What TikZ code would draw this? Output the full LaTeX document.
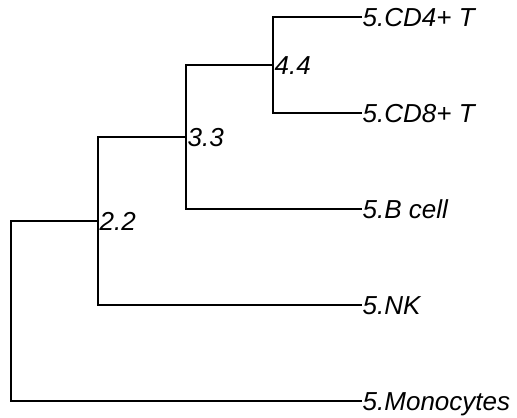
\documentclass[tikz,border=0pt]{standalone}
\usepackage{fontspec}
\setmainfont{Liberation Sans}
\begin{document}
\begin{tikzpicture}[x=1bp,y=-1bp,
  branch/.style={line width=1.4bp, line join=miter, line cap=rect},
  lbl/.style={anchor=base west, inner sep=0pt, font=\fontsize{26bp}{31bp}\selectfont\itshape, yshift=-9.2bp},
]
\useasboundingbox (0,0) rectangle (517,417);
% internal nodes
\coordinate (n44) at (273,65);
\coordinate (n33) at (186,137);
\coordinate (n22) at (98,221);
\coordinate (root) at (11,311);
% leaf tips
\coordinate (tcd4) at (361,17);
\coordinate (tcd8) at (361,113);
\coordinate (tb) at (361,209);
\coordinate (tnk) at (361,305);
\coordinate (tmono) at (361,401);
% branches
\draw[branch] (tcd4) -| (n44) |- (tcd8);
\draw[branch] (n44) -| (n33);
\draw[branch] (n33) |- (tb);
\draw[branch] (n33) -| (n22) |- (tnk);
\draw[branch] (n22) -| (root) |- (tmono);
% labels
\node[lbl] (lcd4) at ([xshift=1.5bp]tcd4) {5.CD4+ T};
\node[lbl] (lcd8) at ([xshift=1.5bp]tcd8) {5.CD8+ T};
\node[lbl] (lb) at ([xshift=1.5bp]tb) {5.B cell};
\node[lbl] (lnk) at ([xshift=1.5bp]tnk) {5.NK};
\node[lbl] (lmono) at ([xshift=1.5bp]tmono) {5.Monocytes};
\node[lbl] (l44) at ([xshift=1.5bp]n44) {4.4};
\node[lbl] (l33) at ([xshift=1.5bp]n33) {3.3};
\node[lbl] (l22) at ([xshift=1.5bp]n22) {2.2};
\end{tikzpicture}
\end{document}
